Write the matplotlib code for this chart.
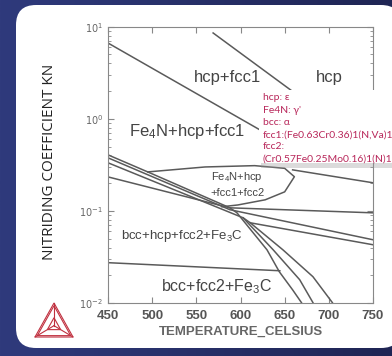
import numpy as np
import matplotlib.pyplot as plt
from matplotlib.patches import FancyBboxPatch, Rectangle, Polygon

plt.rcParams['mathtext.default'] = 'regular'

# phase boundaries: temperature (C) and nitriding coefficient KN
upper1_t = [450, 625]
upper1_k = [6.65, 0.73]
upper2_t = [569, 660]
upper2_k = [8.55, 1.95]
right_t = [659, 750]
right_k = [0.279, 0.202]
loop_t = [495, 560, 616, 650, 661, 650, 628, 597, 579]
loop_k = [0.265, 0.30, 0.31, 0.29, 0.235, 0.161, 0.132, 0.116, 0.111]
diag1_t = [450, 495, 588, 596, 630, 644, 659, 669]
diag1_k = [0.406, 0.265, 0.108, 0.0953, 0.0378, 0.0218, 0.0139, 0.0101]
diag2_t = [450, 588, 750]
diag2_k = [0.377, 0.103, 0.0486]
diag3_t = [450, 603, 637, 667, 682]
diag3_k = [0.333, 0.0841, 0.0378, 0.0179, 0.0101]
diag4_t = [450, 588, 750]
diag4_k = [0.234, 0.108, 0.0953]
branch_t = [603, 611, 750]
branch_k = [0.0841, 0.0743, 0.0429]
steep_t = [611, 648, 682, 704]
steep_k = [0.0743, 0.0378, 0.0193, 0.0101]
bottom_t = [450, 644.5]
bottom_k = [0.0274, 0.0224]

# region labels: text, T, KN, size
labels = [
    ('hcp+fcc1', 585, 2.78, 12),
    ('hcp', 701, 2.78, 12),
    ('Fe$_4$N+hcp+fcc1', 540, 0.72, 12),
    ('Fe$_4$N+hcp', 596, 0.234, 8),
    ('+fcc1+fcc2', 597, 0.157, 8),
    ('bcc+hcp+fcc2+Fe$_3$C', 534, 0.054, 9.5),
    ('bcc+fcc2+Fe$_3$C', 573, 0.0152, 11.5),
]

legend_lines = ['hcp: ε', "Fe4N: γ'", 'bcc: α', 'fcc1:(Fe0.63Cr0.36)1(N,Va)1',
                'fcc2:', '(Cr0.57Fe0.25Mo0.16)1(N)1']

W, H = 392, 356
fig = plt.figure(figsize=(W / 100, H / 100), dpi=100)

# background: dark blue gradient + white rounded panel
bg = fig.add_axes([0, 0, 1, 1], zorder=-1)
grad = np.linspace(0, 1, 256).reshape(1, -1)
bg.imshow(grad, extent=[0, W, H, 0], aspect='auto',
          cmap=plt.matplotlib.colors.LinearSegmentedColormap.from_list('bgc', ['#2f3a7c', '#1f2554']))
bg.add_patch(FancyBboxPatch((16, 5), 385, 343, boxstyle='round,pad=0,rounding_size=20',
                            facecolor='white', edgecolor='none'))
bg.set_xlim(0, W)
bg.set_ylim(H, 0)
bg.axis('off')

ax = fig.add_axes([108 / W, 1 - 303 / H, 265 / W, 276.3 / H])
ax.set_yscale('log')
lc = '#5a5a5a'
for t, k in [(upper1_t, upper1_k), (upper2_t, upper2_k), (right_t, right_k), (loop_t, loop_k),
             (diag1_t, diag1_k), (diag2_t, diag2_k), (diag3_t, diag3_k), (diag4_t, diag4_k),
             (branch_t, branch_k), (steep_t, steep_k), (bottom_t, bottom_k)]:
    ax.plot(t, k, color=lc, lw=1.1)

for txt, t, k, s in labels:
    ax.text(t, k, txt, fontsize=s, color='#444444', ha='center', va='center',
            family='Liberation Sans')

ax.set_xlim(450, 750)
ax.set_ylim(0.01, 10)
ax.set_xticks([450, 500, 550, 600, 650, 700, 750])
ax.tick_params(which='both', direction='in', top=True, right=True, colors='#888888')
ax.tick_params(which='major', length=4)
ax.tick_params(which='minor', length=2)
ax.tick_params(axis='x', which='major', labelsize=9.5, labelcolor='#555555', pad=5)
ax.tick_params(axis='y', which='major', labelsize=7, labelcolor='#666666')
for lab in ax.get_xticklabels():
    lab.set_fontweight('bold')
    lab.set_family('Liberation Sans')
for sp in ax.spines.values():
    sp.set_color('#888888')
ax.set_xlabel('TEMPERATURE_CELSIUS', fontsize=9.5, color='#666666', fontweight='bold',
              family='Liberation Sans', labelpad=3)

# overlay: y label, legend box, logo
ov = fig.add_axes([0, 0, 1, 1], zorder=5)
ov.set_xlim(0, W)
ov.set_ylim(H, 0)
ov.axis('off')
ov.text(50, 162, 'NITRIDING COEFFICIENT KN', rotation=90, ha='center', va='center',
        fontsize=11, color='#222222', family='Open Sans')

ov.add_patch(Rectangle((261, 93), 135, 75, facecolor='#999999', edgecolor='none', alpha=0.35))
ov.add_patch(Rectangle((259, 90), 135, 73, facecolor='white', edgecolor='none'))
for i, line in enumerate(legend_lines):
    ov.text(263, 98 + i * 12.2, line, fontsize=7.5, color='#b8275a', family='Lato',
            ha='left', va='center')

red = '#c0303f'
top, bl, br = np.array([54, 303]), np.array([35, 337]), np.array([73, 337])
cen = (top + bl + br) / 3
for s in [1.0, 0.88]:
    pts = [cen + (p - cen) * s for p in (top, bl, br)]
    ov.add_patch(Polygon(pts, closed=True, fill=False, edgecolor=red, lw=0.8))
inner = [cen + (p - cen) * 0.35 for p in (top, bl, br)]
ov.add_patch(Polygon(inner, closed=True, fill=False, edgecolor=red, lw=0.8))
for p in (top, bl, br):
    ov.plot([p[0], cen[0]], [p[1], cen[1]], color=red, lw=0.8)

fig.savefig('out.png', dpi=100)
